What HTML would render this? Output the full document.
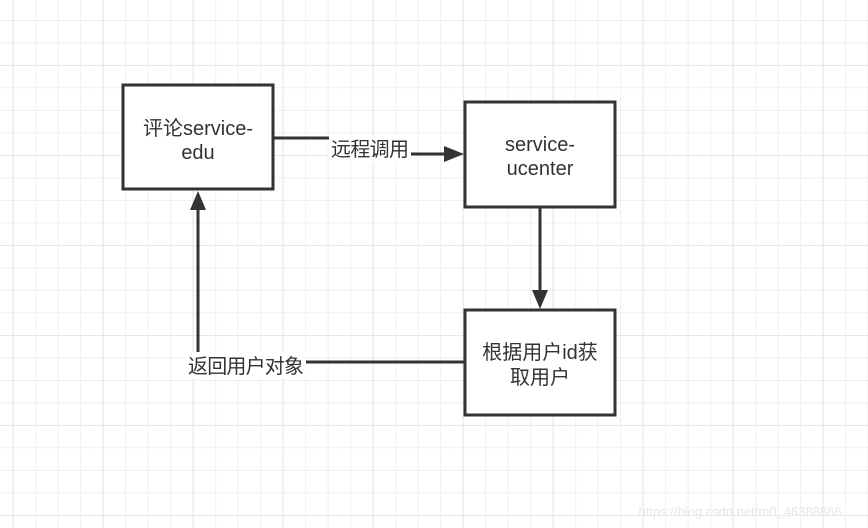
<!DOCTYPE html>
<html><head><meta charset="utf-8"><style>
html,body{margin:0;padding:0;background:#fff;}
svg{display:block;}
text{font-family:"Liberation Sans","Noto Sans CJK SC",sans-serif;font-size:20px;fill:#333;}
</style></head><body>
<svg width="868" height="528" viewBox="0 0 868 528" xmlns="http://www.w3.org/2000/svg">
<defs>
<pattern id="minor" x="12.7" y="20" width="22.5" height="22.5" patternUnits="userSpaceOnUse">
<path d="M0 0V22.5M0 0H22.5" stroke="#ebebeb" stroke-width="1.5" fill="none"/>
</pattern>
<pattern id="major" x="12.7" y="65" width="90" height="90" patternUnits="userSpaceOnUse">
<path d="M0 0V90M0 0H90" stroke="#e3e3e3" stroke-width="1.5" fill="none"/>
</pattern>
</defs>
<rect width="868" height="528" fill="#fff"/>
<rect width="868" height="528" fill="url(#minor)"/>
<rect width="868" height="528" fill="url(#major)"/>

<g stroke="#333" stroke-width="3" fill="none">
<path d="M273 138H370V154H450"/>
<path d="M540 207V294"/>
<path d="M465 362H198V208"/>
</g>
<g fill="#333">
<polygon points="464,154 444,146 444,162"/>
<polygon points="540,309 532,290 548,290"/>
<polygon points="198,191 190,210 206,210"/>
</g>

<g stroke="#333" stroke-width="3" fill="#fff">
<rect x="123" y="85" width="150" height="104"/>
<rect x="465" y="102" width="150" height="105"/>
<rect x="465" y="310" width="150" height="105"/>
</g>

<rect x="329" y="136" width="82" height="26" fill="#fff"/>
<text x="370" y="156" text-anchor="middle" textLength="78">远程调用</text>
<rect x="186" y="352" width="120" height="26" fill="#fff"/>
<text x="246" y="373" text-anchor="middle" textLength="116">返回用户对象</text>

<text x="198" y="135" text-anchor="middle">评论service-</text>
<text x="198" y="159" text-anchor="middle">edu</text>
<text x="540" y="151" text-anchor="middle">service-</text>
<text x="540" y="175" text-anchor="middle">ucenter</text>
<text x="540" y="359" text-anchor="middle">根据用户id获</text>
<text x="540" y="384" text-anchor="middle">取用户</text>

<text x="740" y="516" text-anchor="middle" style="font-size:13px;fill:#e6e6e6">https://blog.csdn.net/m0_46388866</text>
</svg>
</body></html>
